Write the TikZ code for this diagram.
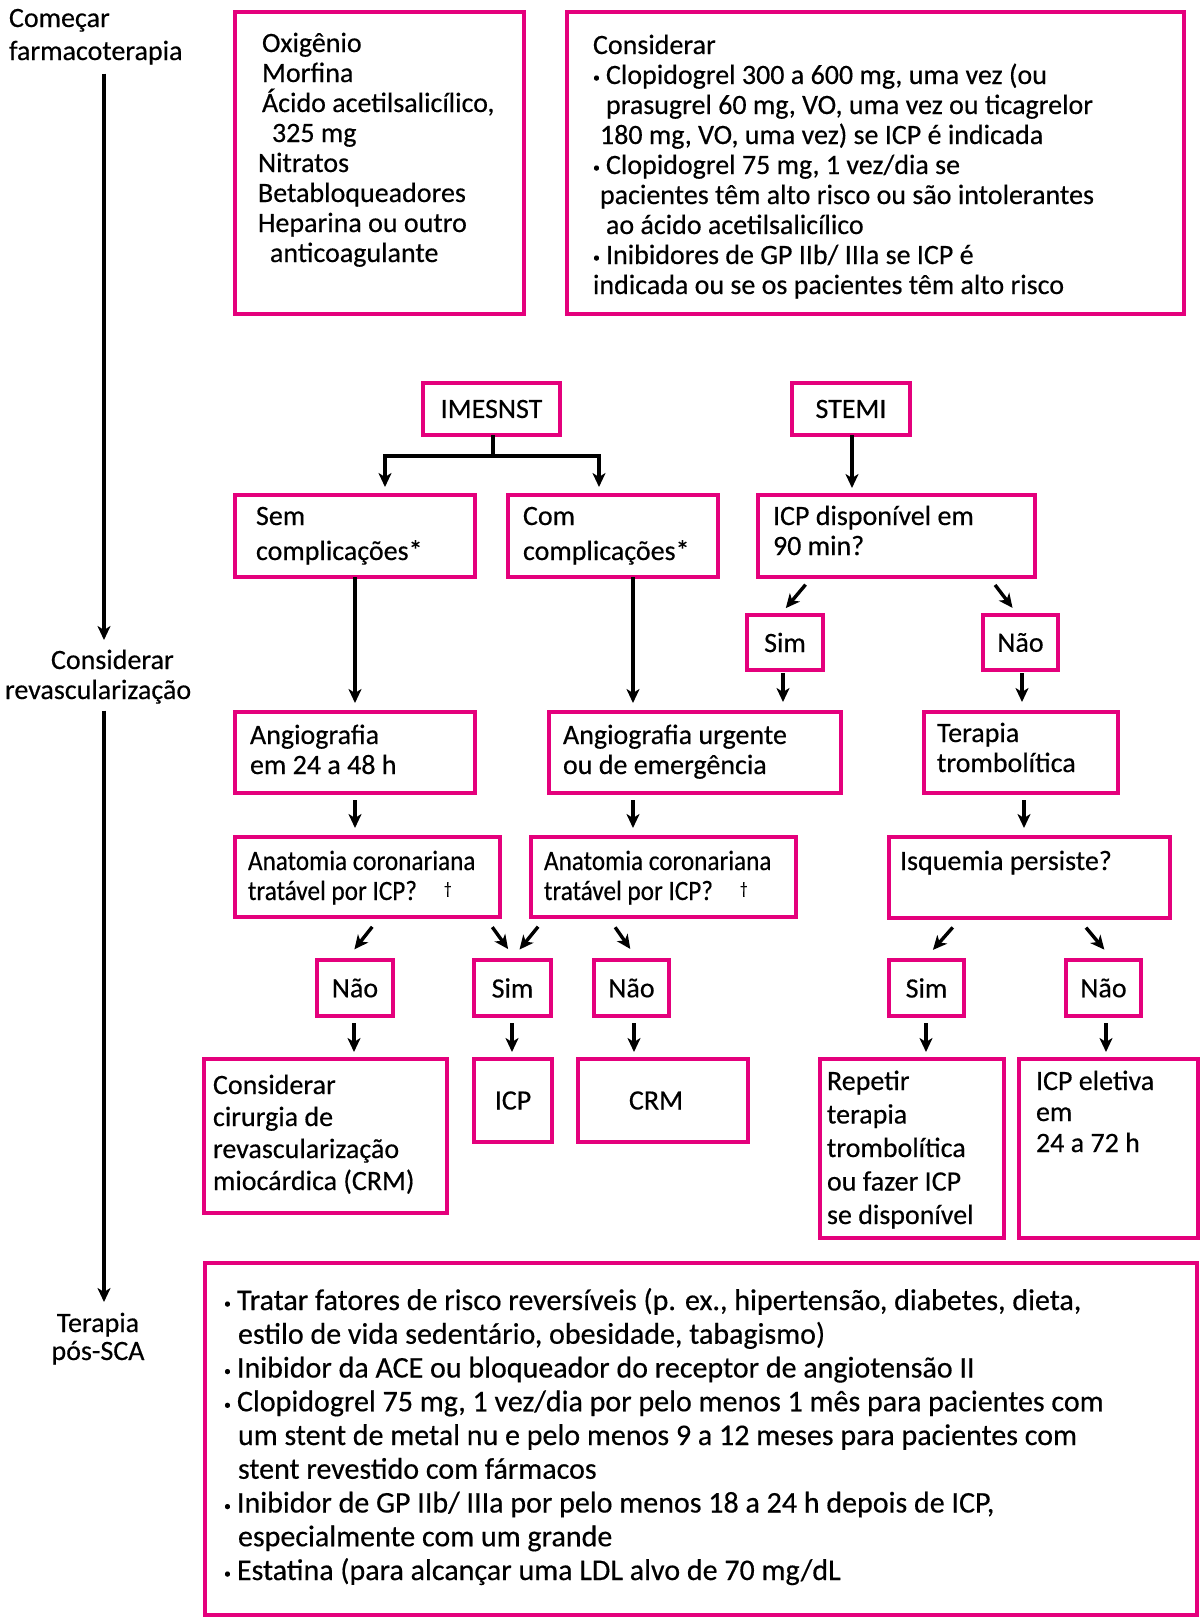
\documentclass[tikz,border=0pt]{standalone}
\usepackage{fontspec}
\setmainfont{Carlito}[FakeBold=0.4]
\newfontfamily\narrow{Carlito}[FakeBold=0.4,FakeStretch=0.9]
\usetikzlibrary{arrows.meta}
\definecolor{mag}{RGB}{228,0,124}
\newcommand\fl{\rule{0pt}{24pt}}
\newcommand\bul{\makebox[13pt][l]{\raisebox{2pt}{\fontsize{14}{14}\selectfont •}}}
\newcommand\dg{\hspace{27pt}\raisebox{6pt}{\fontsize{17}{17}\selectfont\textdagger}}
\newcommand\fsz[2]{\fontsize{#1}{#2}\selectfont\lineskiplimit=-30pt\relax}
\newcommand\bx[6]{\node[box,minimum width={#4-#2},minimum height={#5-#3}] (#1) at ({(#2+#4)/2},{(#3+#5)/2}) {#6};}
\begin{document}
\begin{tikzpicture}[x=1pt,y=-1pt,
  box/.style={draw=mag,line width=3.2pt,inner sep=0pt,outer sep=0pt,font=\fsz{28}{30}},
  txt/.style={inner sep=0pt,outer sep=0pt,align=left,anchor=north west,font=\fsz{28}{30}},
  arr/.style={line width=3.4pt,-{Stealth[length=14pt,width=13pt,inset=4pt]}},
  ln/.style={line width=3.4pt}]
\useasboundingbox (0,0) rectangle (1200,1618);

% left column labels
\node[txt,font=\fsz{28}{33}] (lab1) at (9,3) {\fl Começar\\farmacoterapia};
\node[txt] (lab2) at (5,645) {\fl\hspace*{46pt}Considerar\\revascularização};
\node[inner sep=0pt,outer sep=0pt,align=center,anchor=north,font=\fsz{28}{28}] (lab3) at (98,1308) {\fl Terapia\\pós-SCA};
\draw[arr,shorten <=9pt,shorten >=5pt] (lab1.south -| 104,0) -- (lab2.north -| 104,0);
\draw[arr,shorten <=7pt,shorten >=6pt] (lab2.south -| 104,0) -- (lab3.north -| 104,0);

% top boxes
\bx{b1}{235}{12}{524}{314}{}
\node[txt] (b1t) at (258,28) {\fl\hspace*{4pt}Oxigênio\\
\hspace*{4pt}Morfina\\
\hspace*{4pt}Ácido acetilsalicílico,\\
\hspace*{14pt}325 mg\\
Nitratos\\
Betabloqueadores\\
Heparina ou outro\\
\hspace*{12pt}anticoagulante};
\bx{b2}{567}{12}{1184}{314}{}
\node[txt] (b2t) at (593,30) {\fl Considerar\\
\bul Clopidogrel 300 a 600 mg, uma vez (ou\\
\hspace*{13pt}prasugrel 60 mg, VO, uma vez ou ticagrelor\\
\hspace*{7pt}180 mg, VO, uma vez) se ICP é indicada\\
\bul Clopidogrel 75 mg, 1 vez/dia se\\
\hspace*{7pt}pacientes têm alto risco ou são intolerantes\\
\hspace*{13pt}ao ácido acetilsalicílico\\
\bul Inibidores de GP IIb/ IIIa se ICP é\\
indicada ou se os pacientes têm alto risco};

% middle
\bx{imes}{423}{383}{560}{435}{IMESNST}
\bx{stemi}{792}{383}{910}{435}{STEMI}
\bx{sem}{235}{495}{475}{577}{}
\node[txt,font=\fsz{28}{35}] (semt) at (256,501) {\fl Sem\\complicações*};
\bx{com}{508}{495}{718}{577}{}
\node[txt,font=\fsz{28}{35}] (comt) at (523,501) {\fl Com\\complicações*};
\bx{icpd}{758}{495}{1035}{577}{}
\node[txt] (icpdt) at (773,501) {\fl ICP disponível em\\90 min?};
\bx{ssim}{747}{615}{823}{670}{Sim}
\bx{snao}{983}{615}{1058}{670}{Não}
\bx{angio}{235}{712}{475}{793}{}
\node[txt] (angiot) at (250,720) {\fl Angiografia\\em 24 a 48 h};
\bx{angu}{549}{712}{841}{793}{}
\node[txt] (angut) at (563,720) {\fl Angiografia urgente\\ou de emergência};
\bx{trom}{924}{712}{1118}{793}{}
\node[txt] (tromt) at (937,718) {\fl Terapia\\trombolítica};
\bx{ana1}{235}{837}{500}{917}{}
\node[txt,font=\fsz{28}{30}\narrow] (ana1t) at (248,846) {\fl Anatomia coronariana\\tratável por ICP?\dg};
\bx{ana2}{531}{837}{796}{917}{}
\node[txt,font=\fsz{28}{30}\narrow] (ana2t) at (544,846) {\fl Anatomia coronariana\\tratável por ICP?\dg};
\bx{isq}{889}{837}{1170}{918}{}
\node[txt] (isqt) at (900,846) {\fl Isquemia persiste?};
\bx{nao1}{317}{960}{393}{1016}{Não}
\bx{sim1}{474}{960}{551}{1016}{Sim}
\bx{nao2}{594}{960}{669}{1016}{Não}
\bx{sim3}{889}{960}{964}{1016}{Sim}
\bx{nao3}{1066}{960}{1141}{1016}{Não}
\bx{crm1}{204}{1059}{447}{1213}{}
\node[txt,font=\fsz{28}{32}] (crm1t) at (213,1070) {\fl Considerar\\cirurgia de\\revascularização\\miocárdica (CRM)};
\bx{icp}{474}{1059}{552}{1142}{ICP}
\bx{crm}{578}{1059}{748}{1142}{\hspace*{-14pt}CRM}
\bx{rep}{820}{1059}{1004}{1238}{}
\node[txt,font=\fsz{28}{33.5}] (rept) at (827,1066) {\fl Repetir\\terapia\\trombolítica\\ou fazer ICP\\se disponível};
\bx{icpe}{1019}{1059}{1198}{1238}{}
\node[txt,font=\fsz{28}{31}] (icpet) at (1036,1066) {\fl ICP eletiva\\em\\24 a 72 h};

% bottom box
\bx{pos}{205}{1263}{1197}{1615}{}
\node[txt,font=\fsz{30}{33.75}] (post) at (224,1286) {\fl\bul Tratar fatores de risco reversíveis (p. ex., hipertensão, diabetes, dieta,\\
\hspace*{14pt}estilo de vida sedentário, obesidade, tabagismo)\\
\bul Inibidor da ACE ou bloqueador do receptor de angiotensão II\\
\bul Clopidogrel 75 mg, 1 vez/dia por pelo menos 1 mês para pacientes com\\
\hspace*{14pt}um stent de metal nu e pelo menos 9 a 12 meses para pacientes com\\
\hspace*{14pt}stent revestido com fármacos\\
\bul Inibidor de GP IIb/ IIIa por pelo menos 18 a 24 h depois de ICP,\\
\hspace*{14pt}especialmente com um grande\\
\bul Estatina (para alcançar uma LDL alvo de 70 mg/dL};

% connectors
\coordinate (jn) at (493,456);
\draw[ln] (imes.south -| jn) -- (jn);
\draw[arr,shorten >=8pt] (jn) -| (sem.north -| 385,0);
\draw[arr,shorten >=8pt] (jn) -| (com.north -| 599,0);
\draw[arr,shorten >=7pt] (stemi.south -| 852,0) -- (icpd.north -| 852,0);
\draw[arr,shorten >=9pt] (sem.south -| 355,0) -- (angio.north -| 355,0);
\draw[arr,shorten >=9pt] (com.south -| 633,0) -- (angu.north -| 633,0);
\draw[arr,shorten <=10pt,shorten >=9pt] (icpd.south -| 812,0) -- (ssim.north -| 780,0);
\draw[arr,shorten <=10pt,shorten >=9pt] (icpd.south -| 989,0) -- (snao.north -| 1018,0);
\draw[arr,shorten <=3pt,shorten >=10pt] (ssim.south -| 783,0) -- (angu.north -| 783,0);
\draw[arr,shorten <=3pt,shorten >=10pt] (snao.south -| 1022,0) -- (trom.north -| 1022,0);
\draw[arr,shorten <=7pt,shorten >=9pt] (angio.south -| 355,0) -- (ana1.north -| 355,0);
\draw[arr,shorten <=7pt,shorten >=9pt] (angu.south -| 633,0) -- (ana2.north -| 633,0);
\draw[arr,shorten <=7pt,shorten >=9pt] (trom.south -| 1024,0) -- (isq.north -| 1024,0);
\draw[arr,shorten <=12.5pt,shorten >=13.5pt] (ana1.south -| 380,0) -- (nao1.north -| 346,0);
\draw[arr,shorten <=12.5pt,shorten >=13.5pt] (ana1.south -| 485,0) -- (sim1.north -| 516,0);
\draw[arr,shorten <=12.5pt,shorten >=13.5pt] (ana2.south -| 546,0) -- (sim1.north -| 511,0);
\draw[arr,shorten <=12.5pt,shorten >=13.5pt] (ana2.south -| 608,0) -- (nao2.north -| 638,0);
\draw[arr,shorten <=12.5pt,shorten >=13.5pt] (isq.south -| 961,0) -- (sim3.north -| 924,0);
\draw[arr,shorten <=12.5pt,shorten >=13.5pt] (isq.south -| 1078,0) -- (nao3.north -| 1113,0);
\draw[arr,shorten <=7pt,shorten >=7pt] (nao1.south -| 354,0) -- (crm1.north -| 354,0);
\draw[arr,shorten <=7pt,shorten >=7pt] (sim1.south -| 512,0) -- (icp.north -| 512,0);
\draw[arr,shorten <=7pt,shorten >=7pt] (nao2.south -| 634,0) -- (crm.north -| 634,0);
\draw[arr,shorten <=7pt,shorten >=7pt] (sim3.south -| 926,0) -- (rep.north -| 926,0);
\draw[arr,shorten <=7pt,shorten >=7pt] (nao3.south -| 1106,0) -- (icpe.north -| 1106,0);
\end{tikzpicture}
\end{document}
